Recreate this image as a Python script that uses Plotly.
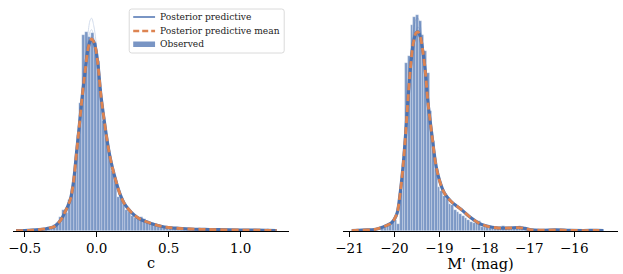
import plotly.graph_objects as go
from plotly.subplots import make_subplots

# ---------------- data: colour index c ----------------
c_grid = [-0.56, -0.50, -0.45, -0.40, -0.36, -0.33, -0.30, -0.28, -0.26, -0.24, -0.22, -0.20,
          -0.18, -0.16, -0.14, -0.12, -0.10, -0.08, -0.06, -0.045, -0.035, -0.02, -0.005, 0.01,
          0.03, 0.05, 0.07, 0.09, 0.11, 0.13, 0.15, 0.17, 0.19, 0.22, 0.26, 0.30, 0.35, 0.40,
          0.47, 0.55, 0.65, 0.75, 0.85, 1.0, 1.1, 1.25]
c_mean = [0.008, 0.013, 0.021, 0.034, 0.053, 0.079, 0.105, 0.158, 0.237, 0.342, 0.50, 0.658,
          0.868, 1.316, 2.053, 2.789, 3.553, 4.211, 4.789, 5.0, 5.053, 4.974, 4.763, 4.342,
          3.553, 2.974, 2.447, 2.0, 1.658, 1.368, 1.105, 0.895, 0.737, 0.579, 0.421, 0.316, 0.237, 0.171,
          0.105, 0.074, 0.053, 0.042, 0.034, 0.026, 0.021, 0.013]
c_ppc_a = [0.006, 0.012, 0.020, 0.036, 0.058, 0.085, 0.11, 0.17, 0.25, 0.36, 0.52, 0.68,
           0.90, 1.35, 2.10, 2.85, 3.40, 4.30, 5.20, 5.55, 5.60, 5.40, 5.00, 4.40,
           3.60, 2.95, 2.40, 1.96, 1.62, 1.34, 1.09, 0.88, 0.73, 0.57, 0.42, 0.32, 0.24, 0.17,
           0.11, 0.075, 0.055, 0.044, 0.035, 0.028, 0.022, 0.012]
c_ppc_b = [0.009, 0.014, 0.022, 0.032, 0.050, 0.075, 0.10, 0.15, 0.22, 0.33, 0.48, 0.64,
           0.85, 1.28, 2.00, 2.75, 3.70, 4.50, 5.00, 5.25, 5.30, 5.10, 4.70, 4.20,
           3.50, 3.00, 2.48, 2.03, 1.69, 1.39, 1.12, 0.91, 0.75, 0.59, 0.43, 0.31, 0.23, 0.17,
           0.10, 0.072, 0.052, 0.040, 0.033, 0.025, 0.020, 0.014]
c_bin_first = -0.35
c_bin_width = 0.02
c_obs = [0.03, 0.05, 0.11, 0.16, 0.21, 0.37, 0.55, 0.47, 0.82, 1.11, 1.58, 2.53, 3.37, 5.16,
         5.24, 5.11, 5.21, 4.95, 4.47, 3.74, 2.89, 2.47, 2.0, 1.58, 1.37, 0.89, 0.84, 0.71,
         0.55, 0.50, 0.39, 0.34, 0.32, 0.37, 0.32, 0.26, 0.21, 0.21, 0.18, 0.16, 0.13, 0.11,
         0.11, 0.08, 0.08, 0.08, 0.05, 0.07, 0.05, 0.05, 0.05, 0.04, 0.04, 0.05, 0.04, 0.03,
         0.04, 0.03, 0.03, 0.03, 0.03, 0.03, 0.02, 0.03, 0.02, 0.02, 0.03, 0.02, 0.01, 0.02,
         0.01, 0.01, 0.02, 0.01, 0.01, 0.01, 0.02, 0.05, 0.01, 0.01]

# ---------------- data: absolute magnitude M' ----------------
m_grid = [-20.95, -20.8, -20.6, -20.45, -20.35, -20.25, -20.15, -20.07, -20.0, -19.94, -19.88,
          -19.81, -19.75, -19.70, -19.64, -19.58, -19.52, -19.48, -19.43, -19.37, -19.31, -19.26,
          -19.17, -19.07, -18.98, -18.89, -18.75, -18.62, -18.50, -18.35, -18.2, -18.13, -17.95,
          -17.69, -17.45, -17.25, -17.1, -16.95, -16.7, -16.4, -16.1, -15.8, -15.5, -15.35]
m_mean = [0.003, 0.005, 0.007, 0.010, 0.017, 0.027, 0.040, 0.053, 0.080, 0.120, 0.233,
          0.427, 0.653, 0.873, 1.10, 1.253, 1.32, 1.327, 1.30, 1.20, 1.053, 0.873,
          0.647, 0.427, 0.320, 0.253, 0.200, 0.167, 0.140, 0.100, 0.067, 0.053, 0.033,
          0.020, 0.020, 0.023, 0.017, 0.007, 0.005, 0.007, 0.004, 0.003, 0.004, 0.003]
m_ppc_a = [0.002, 0.004, 0.008, 0.012, 0.018, 0.030, 0.044, 0.058, 0.085, 0.13, 0.25,
           0.45, 0.69, 0.92, 1.16, 1.33, 1.41, 1.42, 1.38, 1.25, 1.08, 0.89,
           0.65, 0.42, 0.31, 0.25, 0.195, 0.165, 0.137, 0.098, 0.066, 0.052, 0.034,
           0.021, 0.019, 0.024, 0.016, 0.006, 0.005, 0.006, 0.004, 0.003, 0.003, 0.002]
m_ppc_b = [0.004, 0.006, 0.007, 0.009, 0.015, 0.025, 0.038, 0.050, 0.076, 0.115, 0.22,
           0.41, 0.63, 0.85, 1.08, 1.24, 1.33, 1.36, 1.34, 1.24, 1.08, 0.89,
           0.66, 0.44, 0.33, 0.26, 0.205, 0.17, 0.143, 0.102, 0.069, 0.054, 0.032,
           0.019, 0.021, 0.022, 0.018, 0.008, 0.006, 0.008, 0.005, 0.004, 0.005, 0.004]
m_bin_first = -20.27
m_bin_width = 0.06
m_obs = [0.013, 0.02, 0.033, 0.04, 0.06, 0.073, 0.047, 0.267, 0.453, 1.12, 1.167, 1.373, 1.427,
         1.44, 1.40, 1.307, 1.20, 1.053, 0.80, 0.60, 0.413, 0.293, 0.267, 0.233, 0.213, 0.18,
         0.173, 0.14, 0.127, 0.113, 0.10, 0.087, 0.073, 0.06, 0.053, 0.053, 0.067, 0.027, 0.027,
         0.027, 0.02, 0.02, 0.02, 0.02, 0.027, 0.033, 0.02, 0.02, 0.02, 0.02, 0.027, 0.033,
         0.027, 0.02, 0.013, 0.007, 0.007]

c_ticks = [-0.5, 0.0, 0.5, 1.0]
c_ticktext = ["\u22120.5", "0.0", "0.5", "1.0"]
m_ticks = [-21, -20, -19, -18, -17, -16]
m_ticktext = ["\u221221", "\u221220", "\u221219", "\u221218", "\u221217", "\u221216"]

legend_labels = ["Posterior predictive", "Posterior predictive mean", "Observed"]

BLUE = "#4c72b0"
ORANGE = "#dd8452"
FONT = "DejaVu Serif"

W, H = 623, 274
ML, MR, MT, MB = 9, 5, 10, 43
PW, PH = W - ML - MR, H - MT - MB


def px(xp):
    return (xp - ML) / PW


def py(yp):
    return (H - MB - yp) / PH


fig = make_subplots(rows=1, cols=2, horizontal_spacing=0.0)


def add_panel(col, grid, mean, samples, obs, x0, dx):
    fig.add_trace(go.Bar(x0=x0, dx=dx, y=obs, marker=dict(color=BLUE, opacity=0.72,
                         line=dict(color="rgba(255,255,255,0.55)", width=0.5)),
                         name=legend_labels[2], showlegend=False), row=1, col=col)
    for s in samples:
        fig.add_trace(go.Scatter(x=grid, y=s, mode="lines", line=dict(color=BLUE, width=1, shape="spline"),
                                 opacity=0.25, showlegend=False, hoverinfo="skip"), row=1, col=col)
    fig.add_trace(go.Scatter(x=grid, y=mean, mode="lines", line=dict(color=BLUE, width=3.2, shape="spline"),
                             name=legend_labels[0], showlegend=False, hoverinfo="skip"), row=1, col=col)
    fig.add_trace(go.Scatter(x=grid, y=mean, mode="lines",
                             line=dict(color=ORANGE, width=2.8, dash="7px,4px", shape="spline"),
                             name=legend_labels[1], showlegend=False), row=1, col=col)


add_panel(1, c_grid, c_mean, [c_ppc_a, c_ppc_b], c_obs, c_bin_first, c_bin_width)
add_panel(2, m_grid, m_mean, [m_ppc_a, m_ppc_b], m_obs, m_bin_first, m_bin_width)

axis_common = dict(showline=True, linecolor="black", linewidth=1.3, ticks="outside", ticklen=5,
                   tickwidth=1.3, tickcolor="black", showgrid=False, zeroline=False,
                   tickfont=dict(family=FONT, size=13.5, color="black"),
                   title_font=dict(family=FONT, size=14.5, color="black"), title_standoff=2)

fig.update_xaxes(axis_common)
fig.update_xaxes(range=[-0.581, 1.337], tickvals=c_ticks, ticktext=c_ticktext, title_text="c",
                 domain=[0.0, 0.4565], row=1, col=1)
fig.update_xaxes(range=[-21.148, -15.027], tickvals=m_ticks, ticktext=m_ticktext, title_text="M' (mag)",
                 domain=[0.5452, 1.0], row=1, col=2)
fig.update_yaxes(visible=False, showgrid=False, zeroline=False)
fig.update_yaxes(range=[0, 5.816], row=1, col=1)
fig.update_yaxes(range=[0, 1.473], row=1, col=2)

# ---- hand-drawn legend (matplotlib style) ----
bx0, bx1, by0, by1, r = 126, 282, 9, 53, 2.5
path = (f"M {px(bx0 + r)} {py(by0)} L {px(bx1 - r)} {py(by0)} "
        f"Q {px(bx1)} {py(by0)} {px(bx1)} {py(by0 + r)} L {px(bx1)} {py(by1 - r)} "
        f"Q {px(bx1)} {py(by1)} {px(bx1 - r)} {py(by1)} L {px(bx0 + r)} {py(by1)} "
        f"Q {px(bx0)} {py(by1)} {px(bx0)} {py(by1 - r)} L {px(bx0)} {py(by0 + r)} "
        f"Q {px(bx0)} {py(by0)} {px(bx0 + r)} {py(by0)} Z")
shapes = [
    dict(type="path", path=path, xref="paper", yref="paper", line=dict(color="#d0d0d0", width=0.8),
         fillcolor="rgba(255,255,255,0.8)", layer="above"),
    dict(type="line", xref="paper", yref="paper", x0=px(130), x1=px(152), y0=py(17), y1=py(17),
         line=dict(color=BLUE, width=1.5), layer="above"),
    dict(type="line", xref="paper", yref="paper", x0=px(130), x1=px(152), y0=py(31), y1=py(31),
         line=dict(color=ORANGE, width=2.4, dash="6px,3px"), layer="above"),
    dict(type="rect", xref="paper", yref="paper", x0=px(130), x1=px(152), y0=py(41.5), y1=py(47),
         line=dict(width=0), fillcolor="rgba(76,114,176,0.75)", layer="above"),
]
annotations = []
for lbl, yy in zip(legend_labels, [16.5, 30.5, 43.8]):
    annotations.append(dict(text=lbl, xref="paper", yref="paper", x=px(154.5), y=py(yy),
                            xanchor="left", yanchor="middle", showarrow=False,
                            font=dict(family=FONT, size=9.1, color="#222222")))

fig.update_layout(
    width=W, height=H,
    margin=dict(l=ML, r=MR, t=MT, b=MB),
    paper_bgcolor="white", plot_bgcolor="white",
    bargap=0, barmode="overlay",
    font=dict(family=FONT, size=10, color="#222222"),
    showlegend=False,
    shapes=shapes, annotations=annotations,
)

fig.write_html("out.html", config={"displayModeBar": False},
               post_script="document.body.style.margin='0';")
